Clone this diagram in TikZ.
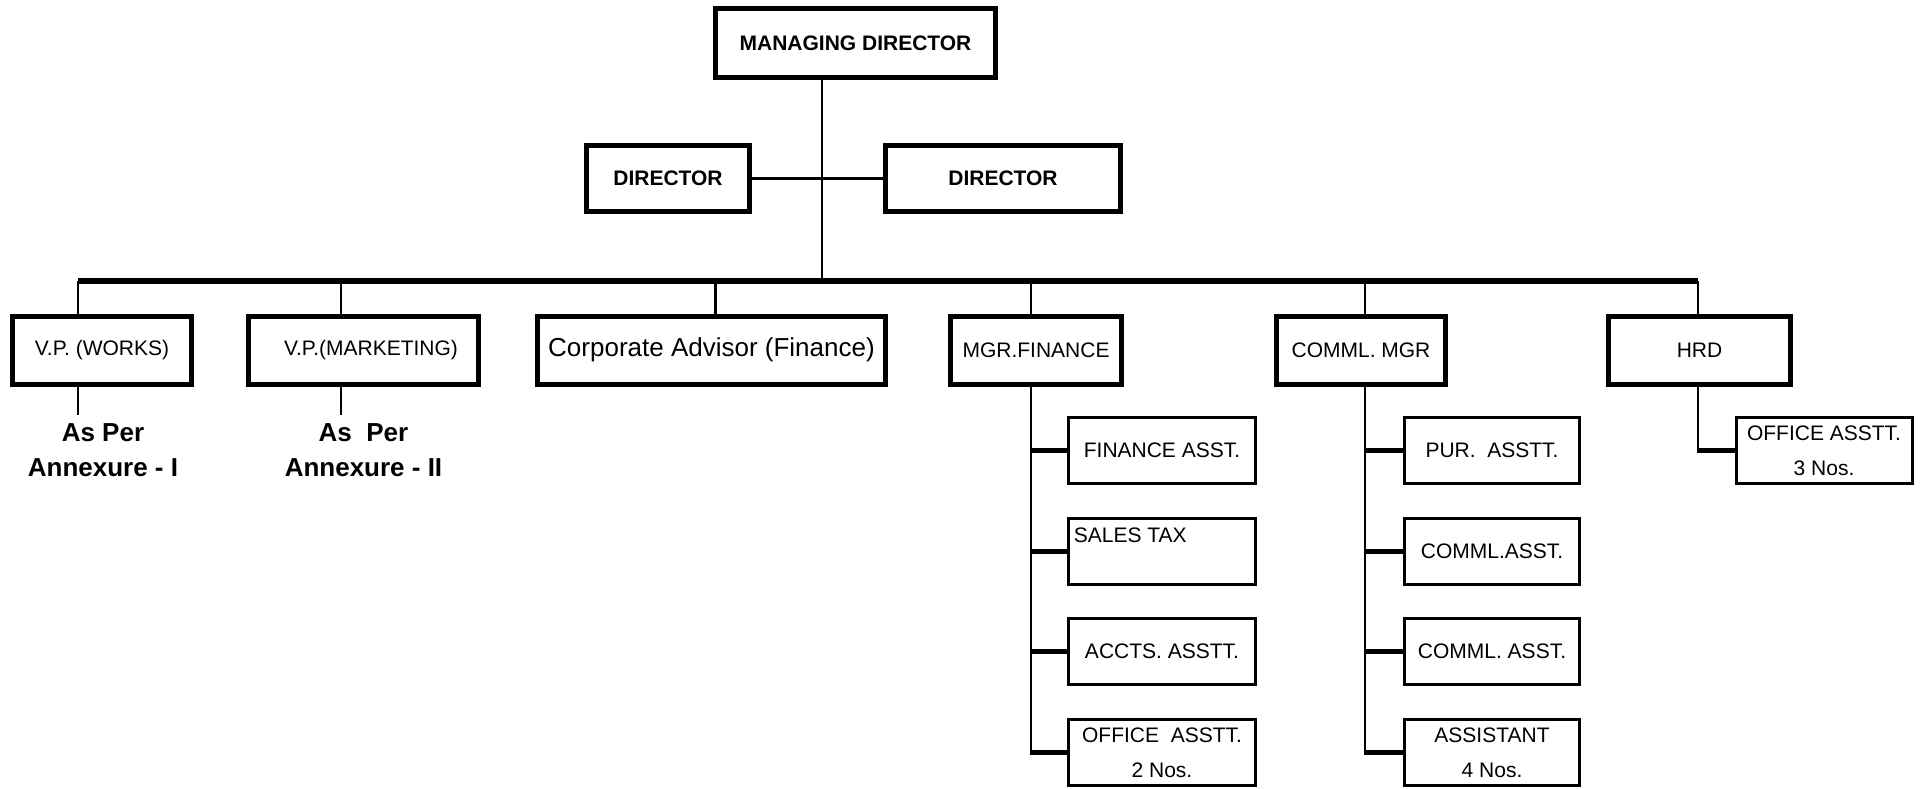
\documentclass[tikz,border=0pt]{standalone}
\usepackage{fontspec}
\setmainfont{Liberation Sans}
\begin{document}
\frenchspacing
\begin{tikzpicture}[x=0.5pt,y=-0.5pt,
  bigbox/.style={draw,line width=2.5pt,inner sep=0pt,font=\fontsize{10.5}{12.6}\selectfont},
  boldtext/.style={font=\bfseries\fontsize{10.5}{12.6}\selectfont},
  rowtwo/.style={bigbox,minimum height=34pt},
  smallbox/.style={draw,line width=1.5pt,inner sep=0pt,minimum height=33pt,font=\fontsize{10.5}{12.6}\selectfont},
  twoline/.style={align=center,font=\fontsize{10.5}{17.5}\selectfont},
  conn/.style={line width=1.4pt},
  barline/.style={line width=2.9pt},
  stubline/.style={line width=2.5pt},
  annot/.style={align=center,font=\bfseries\fontsize{13}{17.5}\selectfont}]
\fill[white] (0,0) rectangle (1928,788);
\useasboundingbox (0,0) rectangle (1928,788);

% top
\node[bigbox,boldtext,minimum width=140pt,minimum height=34.5pt] (md) at (855.5,43) {MANAGING DIRECTOR};
\node[bigbox,boldtext,minimum width=81.5pt,minimum height=33pt] (dl) at (668,178.5) {DIRECTOR};
\node[bigbox,boldtext,minimum width=117.5pt,minimum height=33pt] (dr) at (1003,178.5) {DIRECTOR};

% second row
\node[rowtwo,minimum width=89.5pt] (vpw) at (102,350) {V.P. (WORKS)};
\node[rowtwo,minimum width=115pt] (vpm) at (363,350) {\hspace*{8pt}V.P.(MARKETING)};
\node[rowtwo,minimum width=174pt,font=\fontsize{13}{15.6}\selectfont] (corp) at (711.5,350) {Corporate Advisor (Finance)};
\node[rowtwo,minimum width=85.5pt] (mgrf) at (1036,350) {MGR.FINANCE};
\node[rowtwo,minimum width=84.5pt] (cmgr) at (1361,350) {COMML. MGR};
\node[rowtwo,minimum width=91pt] (hrd) at (1699.5,350) {HRD};

% annexure notes
\node[annot] (ann1) at (103,450.5) {As Per\\Annexure - I};
\node[annot] (ann2) at (363.5,450.5) {As\ \ Per\\Annexure - II};

% finance column
\node[smallbox,minimum width=93.5pt] (f1) at (1162,450.5) {FINANCE ASST.};
\node[smallbox,minimum width=93.5pt,
  label={[anchor=north west,inner xsep=3.25pt,inner ysep=5.25pt,font=\fontsize{10.5}{12.6}\selectfont]north west:SALES TAX}] (f2) at (1162,551) {};
\node[smallbox,minimum width=93.5pt] (f3) at (1162,651.5) {ACCTS. ASSTT.};
\node[smallbox,twoline,minimum width=93.5pt] (f4) at (1162,752.5) {OFFICE\ \ ASSTT.\\2 Nos.};

% commercial column
\node[smallbox,minimum width=87.5pt] (c1) at (1492,450.5) {PUR.\ \ ASSTT.};
\node[smallbox,minimum width=87.5pt] (c2) at (1492,551) {COMML.ASST.};
\node[smallbox,minimum width=87.5pt] (c3) at (1492,651.5) {COMML. ASST.};
\node[smallbox,twoline,minimum width=87.5pt] (c4) at (1492,752.5) {ASSISTANT\\4 Nos.};

% hrd
\node[smallbox,twoline,minimum width=88pt] (h1) at (1824,450.5) {OFFICE ASSTT.\\3 Nos.};

% coordinates
\coordinate (barL) at (78,281);
\coordinate (barR) at (1698,281);
\coordinate (mdx) at (822,281);
\coordinate (mx) at (341,281);
\coordinate (px) at (715.5,281);
\coordinate (fx) at (1031,281);
\coordinate (cx) at (1365,281);
\coordinate (hx) at (1698,281);
\coordinate (e1) at (78,415);
\coordinate (e2) at (341,415);

% connectors
\draw[conn] (md.south -| mdx) -- (mdx);
\draw[conn] (dl.east) -- (dr.west);
\draw[barline] (barL) -- (barR);
\draw[conn] (barL) -- (barL |- vpw.north);
\draw[conn] (mx) -- (mx |- vpm.north);
\draw[conn] (px) -- (px |- corp.north);
\draw[conn] (fx) -- (fx |- mgrf.north);
\draw[conn] (cx) -- (cx |- cmgr.north);
\draw[conn] (hx) -- (hx |- hrd.north);

\draw[conn] (barL |- vpw.south) -- (e1);
\draw[conn] (mx |- vpm.south) -- (e2);

\draw[conn] (fx |- mgrf.south) -- ([yshift=-1.25pt]fx |- f4.west);
\draw[stubline] (fx |- f1.west) -- (f1.west);
\draw[stubline] (fx |- f2.west) -- (f2.west);
\draw[stubline] (fx |- f3.west) -- (f3.west);
\draw[stubline] (fx |- f4.west) -- (f4.west);

\draw[conn] (cx |- cmgr.south) -- ([yshift=-1.25pt]cx |- c4.west);
\draw[stubline] (cx |- c1.west) -- (c1.west);
\draw[stubline] (cx |- c2.west) -- (c2.west);
\draw[stubline] (cx |- c3.west) -- (c3.west);
\draw[stubline] (cx |- c4.west) -- (c4.west);

\draw[conn] (hx |- hrd.south) -- ([yshift=-1.25pt]hx |- h1.west);
\draw[stubline] (hx |- h1.west) -- (h1.west);
\end{tikzpicture}
\end{document}
